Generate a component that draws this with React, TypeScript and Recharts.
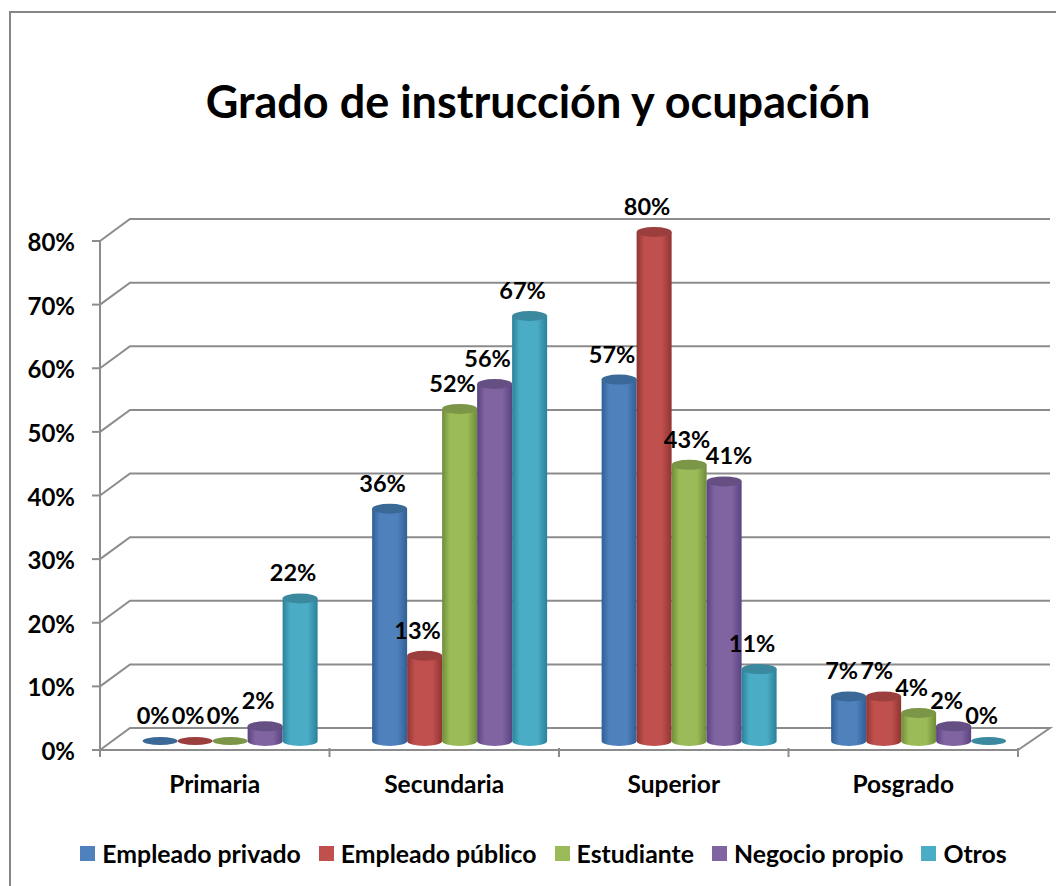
import React from "react";
import { BarChart, Bar, XAxis, YAxis, CartesianGrid, Legend, LabelList } from "recharts";

const categories = ["Primaria", "Secundaria", "Superior", "Posgrado"];
const empleadoPrivado = [0, 36.49, 56.8, 7];
const empleadoPublico = [0, 13.4, 80, 7];
const estudiante = [0, 52.2, 43.4, 4.4];
const negocioPropio = [2.3, 56.1, 40.8, 2.3];
const otros = [22.4, 66.8, 11.3, 0];

const seriesNames = ["Empleado privado", "Empleado público", "Estudiante", "Negocio propio", "Otros"];
const seriesValues = [empleadoPrivado, empleadoPublico, estudiante, negocioPropio, otros];
const seriesColors = ["#4f81bd", "#c0504d", "#9bbb59", "#8064a2", "#4bacc6"];
const seriesDark = ["#2f5f96", "#8f3533", "#6f8c38", "#5a4280", "#2a8199"];
const seriesTop = ["#3a6897", "#9a3f3d", "#7c9647", "#664f82", "#3b899e"];
const yTicks = [0, 10, 20, 30, 40, 50, 60, 70, 80];

const table = categories.map((name, i) => {
  const row: Record<string, string | number> = { name };
  seriesNames.forEach((s, j) => (row[s] = seriesValues[j][i]));
  return row;
});

const FONT = "Lato, sans-serif";
const GRID = "#8c8c8c";
const W = 1056;
const H = 886;
const M = { top: 241, right: 38, bottom: 76, left: 0 };
const FLOOR_Y = 748;
const DX = 16;
const DY = -9;
const RY = 5;
const BAND = (W - 100 - M.right) / categories.length;

const Cylinder = (p: any) => {
  const { x, y, width, height, si } = p;
  const cx = x + width / 2 + DX;
  const rx = width / 2;
  const top = y + DY;
  const left = x + DX;
  const right = left + width;
  const bottom = top + height;
  if (height < 0.5) {
    return <ellipse cx={cx} cy={top} rx={rx} ry={RY - 1} fill={seriesTop[si]} />;
  }
  const d = `M${left},${top} L${left},${bottom} A${rx},${RY} 0 0 0 ${right},${bottom} L${right},${top} Z`;
  return (
    <g>
      <path d={d} fill={`url(#cyl${si})`} />
      <ellipse cx={cx} cy={top} rx={rx} ry={RY} fill={seriesTop[si]} />
    </g>
  );
};

const GridLine = (p: any) => {
  const { x1, x2, y1, index } = p;
  const isFloor = Math.abs(y1 - FLOOR_Y) < 3;
  const pts = isFloor
    ? `${x1},${y1} ${x1 + 30},${y1 - 22} ${x2 + 32},${y1 - 22} ${x2},${y1}`
    : `${x1},${y1} ${x1 + 30},${y1 - 22} ${x2 + 32},${y1 - 22}`;
  return <polyline key={index} points={pts} fill="none" stroke={GRID} strokeWidth={2} />;
};

const CategoryTick = (p: any) => {
  const { x, payload, index } = p;
  const left = x - BAND / 2;
  const axisY = FLOOR_Y;
  return (
    <g>
      <line x1={left} x2={left} y1={axisY} y2={axisY + 9} stroke={GRID} strokeWidth={2} />
      {index === categories.length - 1 && (
        <line x1={left + BAND} x2={left + BAND} y1={axisY} y2={axisY + 9} stroke={GRID} strokeWidth={2} />
      )}
      <text x={x} y={axisY + 45} textAnchor="middle" fontFamily={FONT} fontWeight={700} fontSize={24.5} fill="#000">
        {payload.value}
      </text>
    </g>
  );
};

const ValueTick = (p: any) => {
  const { x, y, payload } = p;
  return (
    <text x={x} y={y + 10} textAnchor="end" fontFamily={FONT} fontWeight={700} fontSize={24} fill="#000">
      {payload.value}%
    </text>
  );
};

const labelNudge = (label: number) => (label === 41 ? 12 : label === 43 ? 5 : 0);

const BarLabel = (p: any) => {
  const { x, y, width, value } = p;
  const label = Math.round(value);
  return (
    <text
      x={x + width / 2 + DX - 7 + labelNudge(label)}
      y={y + DY - 17}
      textAnchor="middle"
      fontFamily={FONT}
      fontWeight={700}
      fontSize={23.5}
      fill="#000"
    >
      {label}%
    </text>
  );
};

const LegendContent = (p: any) => (
  <div style={{ position: "relative", height: 30, fontFamily: FONT, fontWeight: 700, fontSize: 24.8, color: "#000" }}>
    <div style={{ display: "flex", justifyContent: "center", alignItems: "center", gap: 18, whiteSpace: "nowrap" }}>
      {p.payload.map((e: any) => (
        <span key={e.value} style={{ display: "inline-flex", alignItems: "center", gap: 7 }}>
          <span style={{ width: 15, height: 15, background: e.color, display: "inline-block" }} />
          {e.value}
        </span>
      ))}
    </div>
  </div>
);

export default function App() {
  return (
    <div
      style={{
        position: "absolute",
        left: 0,
        top: 0,
        width: W,
        height: H,
        overflow: "hidden",
        background: "#fff",
      }}
    >
      <div
        style={{
          position: "absolute",
          left: 9,
          top: 11,
          right: 0,
          bottom: 0,
          borderTop: "2px solid #868686",
          borderLeft: "2px solid #868686",
        }}
      />
      <BarChart
        width={W}
        height={H}
        data={table}
        margin={M}
        barCategoryGap="11.6%"
        barGap={0}
        style={{ position: "absolute", left: 0, top: 0 }}
      >
        <defs>
          {seriesColors.map((c, i) => (
            <linearGradient key={c} id={`cyl${i}`} x1="0" y1="0" x2="1" y2="0">
              <stop offset="0%" stopColor={seriesDark[i]} />
              <stop offset="22%" stopColor={c} />
              <stop offset="72%" stopColor={c} />
              <stop offset="100%" stopColor={seriesDark[i]} />
            </linearGradient>
          ))}
        </defs>
        <text x={538} y={118} textAnchor="middle" fontFamily={FONT} fontWeight={700} fontSize={45} fill="#000">
          Grado de instrucción y ocupación
        </text>
        <CartesianGrid vertical={false} horizontal={GridLine as any} />
        <XAxis
          dataKey="name"
          height={30}
          axisLine={{ stroke: GRID, strokeWidth: 2 }}
          tickLine={false}
          tick={CategoryTick as any}
          interval={0}
        />
        <YAxis
          domain={[0, 80]}
          ticks={yTicks}
          width={100}
          interval={0}
          axisLine={{ stroke: GRID, strokeWidth: 2 }}
          tickLine={{ stroke: GRID, strokeWidth: 2 }}
          tickSize={8}
          tickMargin={17}
          tick={ValueTick as any}
        />
        <Legend
          verticalAlign="bottom"
          align="left"
          content={LegendContent}
          wrapperStyle={{ left: 0, width: 1087, bottom: 17, height: 30 }}
        />
        {seriesNames.map((s, i) => (
          <Bar
            key={s}
            dataKey={s}
            fill={seriesColors[i]}
            isAnimationActive={false}
            shape={(p: any) => <Cylinder {...p} si={i} />}
          >
            <LabelList dataKey={s} content={BarLabel as any} />
          </Bar>
        ))}
      </BarChart>
    </div>
  );
}
